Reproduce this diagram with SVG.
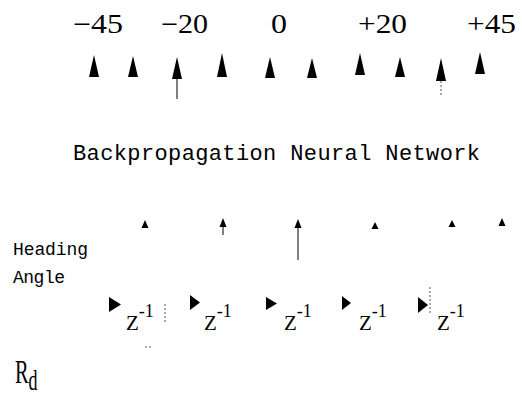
<svg xmlns="http://www.w3.org/2000/svg" width="522" height="397" viewBox="0 0 522 397">
<style>
.ang{font-family:"Liberation Serif",serif;font-size:27px;fill:#000}
.mono{font-family:"Liberation Mono",monospace;fill:#000}
.z{font-family:"Liberation Serif",serif;font-size:21px;fill:#000}
.sup{font-size:18px}
.head{fill:#000}
.shaft{stroke:#000;stroke-width:1;fill:none}
.dot{stroke:#555;stroke-width:1;stroke-dasharray:2 2;fill:none}
</style>
<rect width="522" height="397" fill="#fff"/>
<g id="angle-labels">
<text class="ang" x="73" y="33" textLength="50" lengthAdjust="spacingAndGlyphs">−45</text>
<text class="ang" x="161" y="33" textLength="47" lengthAdjust="spacingAndGlyphs">−20</text>
<text class="ang" x="271" y="33" textLength="16" lengthAdjust="spacingAndGlyphs">0</text>
<text class="ang" x="358" y="33" textLength="49" lengthAdjust="spacingAndGlyphs">+20</text>
<text class="ang" x="467" y="33" textLength="49" lengthAdjust="spacingAndGlyphs">+45</text>
</g>
<g id="output-arrows">
<path class="head" d="M94,55 L99,77 L89,77 Z"/>
<path class="head" d="M133,56 L138,77 L128,77 Z"/>
<path class="head" d="M177,57 L182,79 L172,79 Z"/>
<path class="head" d="M222,53 L227,77 L217,77 Z"/>
<path class="head" d="M270,57 L275,78 L265,78 Z"/>
<path class="head" d="M312,58 L317,78 L307,78 Z"/>
<path class="head" d="M360,53 L365,75 L355,75 Z"/>
<path class="head" d="M400,57 L405,77 L395,77 Z"/>
<path class="head" d="M441,58 L446,81 L436,81 Z"/>
<path class="head" d="M480,52 L485,74 L475,74 Z"/>
</g>
<g id="network">
<text class="mono" x="73" y="160" font-size="22" textLength="407" lengthAdjust="spacing">Backpropagation Neural Network</text>
</g>
<g id="input-arrows">
<path class="head" d="M145,220 L148.5,228 L141.5,228 Z"/>
<path class="head" d="M223,218 L226.5,227 L219.5,227 Z"/>
<path class="head" d="M298,219 L301.5,228 L294.5,228 Z"/>
<path class="head" d="M375,222 L378.5,229 L371.5,229 Z"/>
<path class="head" d="M452,220 L455.5,227 L448.5,227 Z"/>
<path class="head" d="M502,218 L505.5,226 L498.5,226 Z"/>
</g>
<g id="heading-angle">
<text class="mono" x="13" y="255" font-size="18" textLength="75" lengthAdjust="spacing">Heading</text>
<text class="mono" x="13" y="283" font-size="18" textLength="52" lengthAdjust="spacing">Angle</text>
</g>
<g id="delay-1">
<path class="head" d="M109,297 L121,304.5 L109,312 Z"/>
<text class="z" x="126" y="330">Z<tspan class="sup" dy="-13">-1</tspan></text>
</g>
<g id="delay-2">
<path class="head" d="M190,295 L200,302.5 L190,310 Z"/>
<text class="z" x="204" y="330">Z<tspan class="sup" dy="-13">-1</tspan></text>
</g>
<g id="delay-3">
<path class="head" d="M266,297 L277,303.5 L266,310 Z"/>
<text class="z" x="284" y="330">Z<tspan class="sup" dy="-13">-1</tspan></text>
</g>
<g id="delay-4">
<path class="head" d="M342,296 L351,303 L342,310 Z"/>
<text class="z" x="359" y="330">Z<tspan class="sup" dy="-13">-1</tspan></text>
</g>
<g id="delay-5">
<path class="head" d="M418,297 L428,305 L418,313 Z"/>
<text class="z" x="437" y="330">Z<tspan class="sup" dy="-13">-1</tspan></text>
</g>
<g id="rd">
<text font-family="Liberation Serif, serif" font-size="34" fill="#000" transform="translate(15,383) scale(0.6,1)">R<tspan font-size="30" dy="7">d</tspan></text>
</g>
<g id="connectors">
<line class="shaft" x1="177" y1="79" x2="177" y2="99"/>
<line class="dot" x1="441" y1="81" x2="441" y2="95"/>
<line class="shaft" x1="223" y1="227" x2="223" y2="235"/>
<line class="shaft" x1="298" y1="228" x2="298" y2="260"/>
<line class="dot" x1="430" y1="287" x2="430" y2="313"/>
<line class="dot" x1="165" y1="304" x2="165" y2="323"/>
<line class="dot" x1="145" y1="347" x2="152" y2="347"/>
</g>
</svg>
